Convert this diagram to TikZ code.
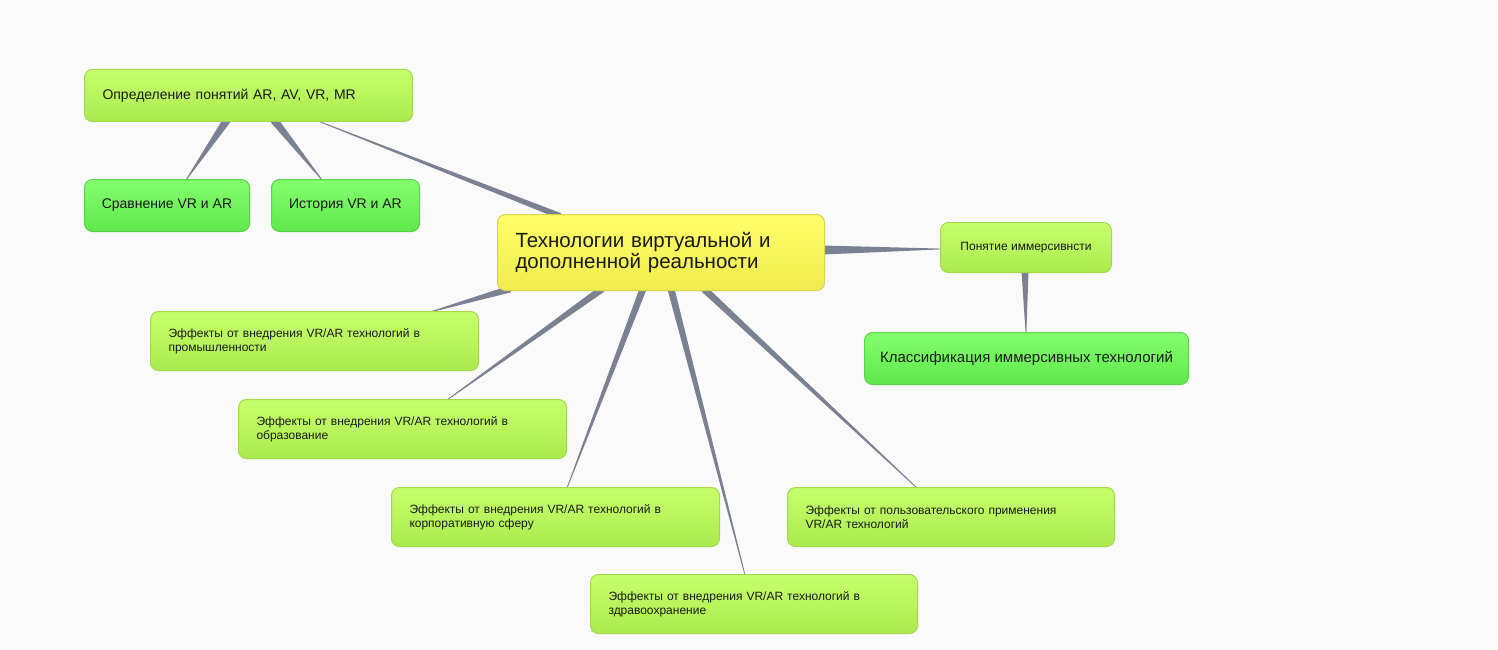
\documentclass[tikz,border=0pt]{standalone}
\usepackage{fontspec}
\setmainfont{Liberation Sans}
\usetikzlibrary{calc,backgrounds}
\definecolor{bg}{HTML}{FAFAFA}
\definecolor{link}{HTML}{7A8192}
\definecolor{txt}{HTML}{1A1A1A}
\definecolor{lgT}{HTML}{C6FF6C}
\definecolor{lgBot}{HTML}{ABEA4E}
\definecolor{lgLine}{HTML}{A3D84C}
\definecolor{gT}{HTML}{84FF6E}
\definecolor{gBot}{HTML}{5FE84C}
\definecolor{gLine}{HTML}{5CD24A}
\definecolor{yT}{HTML}{FFFF6A}
\definecolor{yBot}{HTML}{F0EC4E}
\definecolor{yLine}{HTML}{D6D24A}
\newcommand{\fsz}[2]{\fontsize{#1}{#2}\selectfont}
\newcommand{\taper}[3]{%
  \fill[link] ($(#1)!#3!90:(#2)$) -- ($(#2)!0.4pt!-90:(#1)$) -- ($(#2)!0.4pt!90:(#1)$) -- ($(#1)!#3!-90:(#2)$) -- cycle;}
\tikzset{
  box/.style={rounded corners=8pt, line width=1pt, anchor=north west, inner xsep=18pt, inner ysep=0pt, align=left, text=txt},
  lgbox/.style={box, draw=lgLine, top color=lgT, bottom color=lgBot},
  gbox/.style={box, draw=gLine, top color=gT, bottom color=gBot},
  ybox/.style={box, draw=yLine, top color=yT, bottom color=yBot},
}
\begin{document}
\begin{tikzpicture}[x=1pt,y=-1pt]
\begin{pgfonlayer}{background}
\fill[bg] (0,0) rectangle (1498,650);
\end{pgfonlayer}
\useasboundingbox (0,0) rectangle (1498,650);

\node[ybox, text width=291pt, minimum height=76pt, font=\fsz{20.5}{21}] (root) at (497,214) {Технологии виртуальной и\\дополненной реальности};

\node[lgbox, text width=292pt, minimum height=52pt, font=\fsz{14}{16}] (def) at (84,69) {Определение понятий AR, AV, VR, MR};
\node[gbox, inner xsep=0pt, minimum width=165pt, minimum height=52pt, font=\fsz{14}{16}] (srav) at (84,179) {Сравнение VR и AR};
\node[gbox, inner xsep=0pt, minimum width=148pt, minimum height=52pt, font=\fsz{14}{16}] (ist) at (271,179) {История VR и AR};

\node[lgbox, inner xsep=0pt, minimum width=171pt, minimum height=50pt, font=\fsz{12}{14}] (pon) at (940,222) {Понятие иммерсивнсти};
\node[gbox, inner xsep=0pt, minimum width=324pt, minimum height=52pt, font=\fsz{15}{17}] (klas) at (864,332) {Классификация иммерсивных технологий};

\node[lgbox, text width=292pt, minimum height=59pt, font=\fsz{12}{14}] (prom) at (150,311) {Эффекты от внедрения VR/AR технологий в\\промышленности};
\node[lgbox, text width=292pt, minimum height=59pt, font=\fsz{12}{14}] (obr) at (238,399) {Эффекты от внедрения VR/AR технологий в\\образование};
\node[lgbox, text width=292pt, minimum height=59pt, font=\fsz{12}{14}] (korp) at (391,487) {Эффекты от внедрения VR/AR технологий в\\корпоративную сферу};
\node[lgbox, text width=291pt, minimum height=59pt, font=\fsz{12}{14}] (zdr) at (590,574) {Эффекты от внедрения VR/AR технологий в\\здравоохранение};
\node[lgbox, text width=291pt, minimum height=59pt, font=\fsz{12}{14}] (pol) at (787,487) {Эффекты от пользовательского применения\\VR/AR технологий};

\coordinate (a1) at ($(root.north west)+(63,2)$);
\coordinate (b1) at ($(def.south west)+(234,-1)$);
\coordinate (a2) at ($(def.south west)+(143,-2)$);
\coordinate (b2) at ($(srav.north west)+(102,1)$);
\coordinate (a3) at ($(def.south west)+(190,-2)$);
\coordinate (b3) at ($(ist.north west)+(51,1)$);
\coordinate (a4) at ($(root.north east)+(-2,36)$);
\coordinate (b4) at ($(pon.north west)+(1,27)$);
\coordinate (a5) at ($(pon.south west)+(85,-2)$);
\coordinate (b5) at ($(klas.north west)+(162,1)$);
\coordinate (a6) at ($(root.south west)+(13,-2)$);
\coordinate (b6) at ($(prom.north west)+(280,1)$);
\coordinate (a7) at ($(root.south west)+(105,-2)$);
\coordinate (b7) at ($(obr.north west)+(209,1)$);
\coordinate (a8) at ($(root.south west)+(146,-2)$);
\coordinate (b8) at ($(korp.north west)+(176,1)$);
\coordinate (a9) at ($(root.south west)+(174,-2)$);
\coordinate (b9) at ($(zdr.north west)+(155,1)$);
\coordinate (a10) at ($(root.south west)+(207,-2)$);
\coordinate (b10) at ($(pol.north west)+(130,1)$);

\begin{pgfonlayer}{background}
\taper{a1}{b1}{3pt}
\taper{a2}{b2}{4pt}
\taper{a3}{b3}{4pt}
\taper{a4}{b4}{4.5pt}
\taper{a5}{b5}{3.5pt}
\taper{a6}{b6}{3.5pt}
\taper{a7}{b7}{3.5pt}
\taper{a8}{b8}{3.5pt}
\taper{a9}{b9}{3.5pt}
\taper{a10}{b10}{3.5pt}
\end{pgfonlayer}
\end{tikzpicture}
\end{document}
